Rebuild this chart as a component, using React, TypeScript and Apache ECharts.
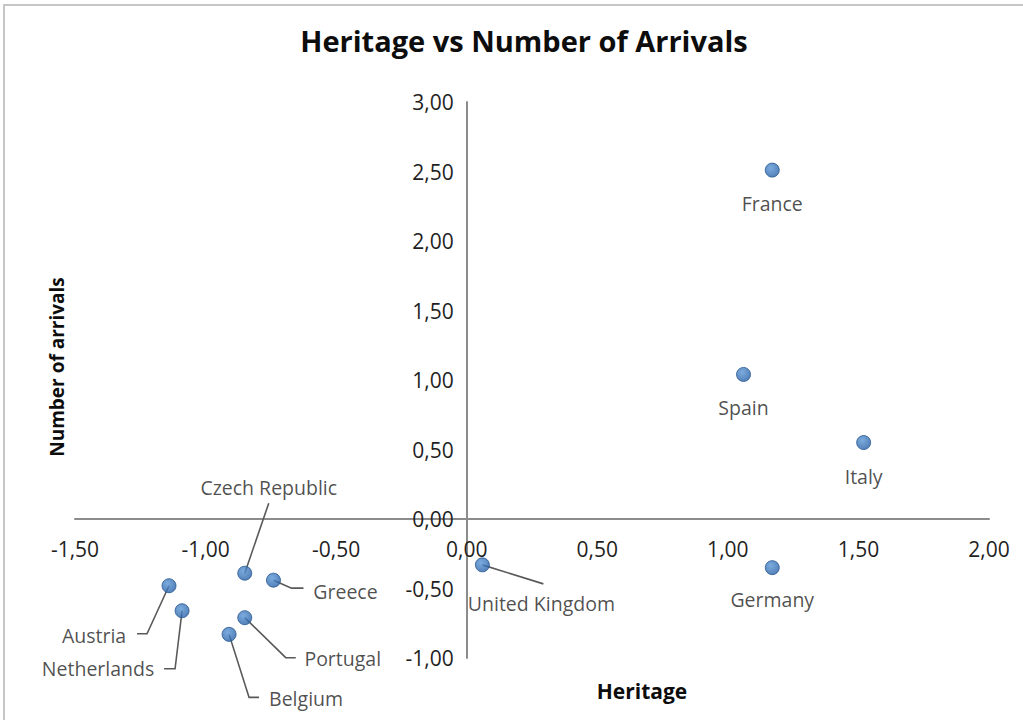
import React, { useEffect, useRef } from "react";
import * as echarts from "echarts";

const countries = [
  "France", "Spain", "Italy", "Germany", "United Kingdom", "Czech Republic",
  "Greece", "Austria", "Netherlands", "Portugal", "Belgium",
];
const heritage = [1.17, 1.06, 1.52, 1.17, 0.06, -0.85, -0.74, -1.14, -1.09, -0.85, -0.91];
const arrivals = [2.51, 1.04, 0.55, -0.35, -0.33, -0.39, -0.44, -0.48, -0.66, -0.71, -0.83];

const xTicks = { min: -1.5, max: 2, step: 0.5 };
const yTicks = { min: -1, max: 3, step: 0.5 };

// label offsets relative to point centre (px)
const labelOffsets: number[][] = [
  [0, 33], [0, 33], [0, 34], [0, 32], [59, 39], [24, -86],
  [72, 11], [-75, 50], [-84, 58], [98, 41], [77, 64],
];
// leader-line paths relative to point centre (px)
const leaderPaths: (number[][] | null)[] = [
  null, null, null, null,
  [[0, 0], [61, 19]],
  [[0, 0], [24, -70]],
  [[0, 0], [18, 8], [30, 8]],
  [[0, 0], [-22, 48], [-32, 48]],
  [[0, 0], [-7, 58], [-18, 58]],
  [[0, 0], [41, 40], [51, 40]],
  [[0, 0], [20, 63], [30, 63]],
];

const FONT = "Open Sans";
const fmt = (v: number) => v.toFixed(2).replace(".", ",");

const W = 1023;
const H = 720;
const GRID = { left: 75, right: 34, top: 102, bottom: 62 };

export default function App() {
  const ref = useRef<HTMLDivElement>(null);
  useEffect(() => {
    if (!ref.current) return;
    const chart = echarts.init(ref.current, null, { renderer: "svg" });
    const gridW = W - GRID.left - GRID.right;
    const gridH = H - GRID.top - GRID.bottom;
    // axes cross at zero: shift each axis (line + labels) onto the other's zero
    const xAxisOffset = -((0 - yTicks.min) / (yTicks.max - yTicks.min)) * gridH;
    const yAxisOffset = -((0 - xTicks.min) / (xTicks.max - xTicks.min)) * gridW;
    const data = countries.map((name, i) => ({
      name,
      value: [heritage[i], arrivals[i]],
      label: { offset: labelOffsets[i] },
    }));
    chart.setOption({
      animation: false,
      backgroundColor: "#ffffff",
      textStyle: { fontFamily: FONT },
      grid: { ...GRID, containLabel: false, outerBoundsMode: "none" },
      xAxis: {
        type: "value",
        position: "bottom",
        offset: xAxisOffset,
        min: xTicks.min,
        max: xTicks.max,
        interval: xTicks.step,
        axisLine: { show: true, onZero: false, lineStyle: { color: "#8c8c8c", width: 2 } },
        axisTick: { show: false },
        splitLine: { show: false },
        axisLabel: { formatter: fmt, fontSize: 21, color: "#1f1f1f", margin: 19, fontFamily: FONT },
      },
      yAxis: {
        type: "value",
        position: "left",
        offset: yAxisOffset,
        min: yTicks.min,
        max: yTicks.max,
        interval: yTicks.step,
        axisLine: { show: true, onZero: false, lineStyle: { color: "#8c8c8c", width: 2 } },
        axisTick: { show: false },
        splitLine: { show: false },
        axisLabel: { formatter: fmt, fontSize: 21, color: "#1f1f1f", margin: 13, fontFamily: FONT },
      },
      graphic: [
        {
          type: "rect",
          shape: { x: 4, y: 5, width: 1040, height: 740 },
          style: { fill: null, stroke: "#c6c6c6", lineWidth: 2 },
          silent: true,
          z: -1,
        },
        {
          type: "text",
          x: 524,
          y: 40,
          style: {
            text: "Heritage vs Number of Arrivals",
            font: `bold 29px '${FONT}'`,
            fill: "#0d0d0d",
            textAlign: "center",
            textVerticalAlign: "middle",
          },
        },
        {
          type: "text",
          x: 642,
          y: 691,
          style: {
            text: "Heritage",
            font: `bold 21px '${FONT}'`,
            fill: "#0d0d0d",
            textAlign: "center",
            textVerticalAlign: "middle",
          },
        },
        {
          type: "text",
          x: 57,
          y: 367,
          rotation: Math.PI / 2,
          style: {
            text: "Number of arrivals",
            font: `bold 19px '${FONT}'`,
            fill: "#0d0d0d",
            textAlign: "center",
            textVerticalAlign: "middle",
          },
        },
      ],
      series: [
        {
          type: "custom",
          data: countries.map((_, i) => [heritage[i], arrivals[i]]),
          z: 1,
          silent: true,
          renderItem: (params: any, api: any) => {
            const path = leaderPaths[params.dataIndex];
            if (!path) return { type: "group", children: [] };
            const c = api.coord([api.value(0), api.value(1)]);
            return {
              type: "polyline",
              shape: { points: path.map((p) => [c[0] + p[0], c[1] + p[1]]) },
              style: { stroke: "#595959", lineWidth: 1.6, fill: null },
            };
          },
        },
        {
          type: "scatter",
          z: 3,
          symbol: "circle",
          symbolSize: 14,
          data,
          itemStyle: {
            color: new echarts.graphic.RadialGradient(0.4, 0.35, 0.65, [
              { offset: 0, color: "#5a96d6" },
              { offset: 1, color: "#2a63a8" },
            ]),
            borderColor: "#285890",
            borderWidth: 1,
          },
          label: {
            show: true,
            position: "inside",
            formatter: "{b}",
            fontSize: 19.5,
            color: "#1f1f1f",
            fontFamily: FONT,
          },
        },
      ],
    });
    return () => chart.dispose();
  }, []);
  return (
    <div
      ref={ref}
      style={{ position: "fixed", left: 0, top: 0, width: W, height: H, background: "#fff" }}
    />
  );
}
